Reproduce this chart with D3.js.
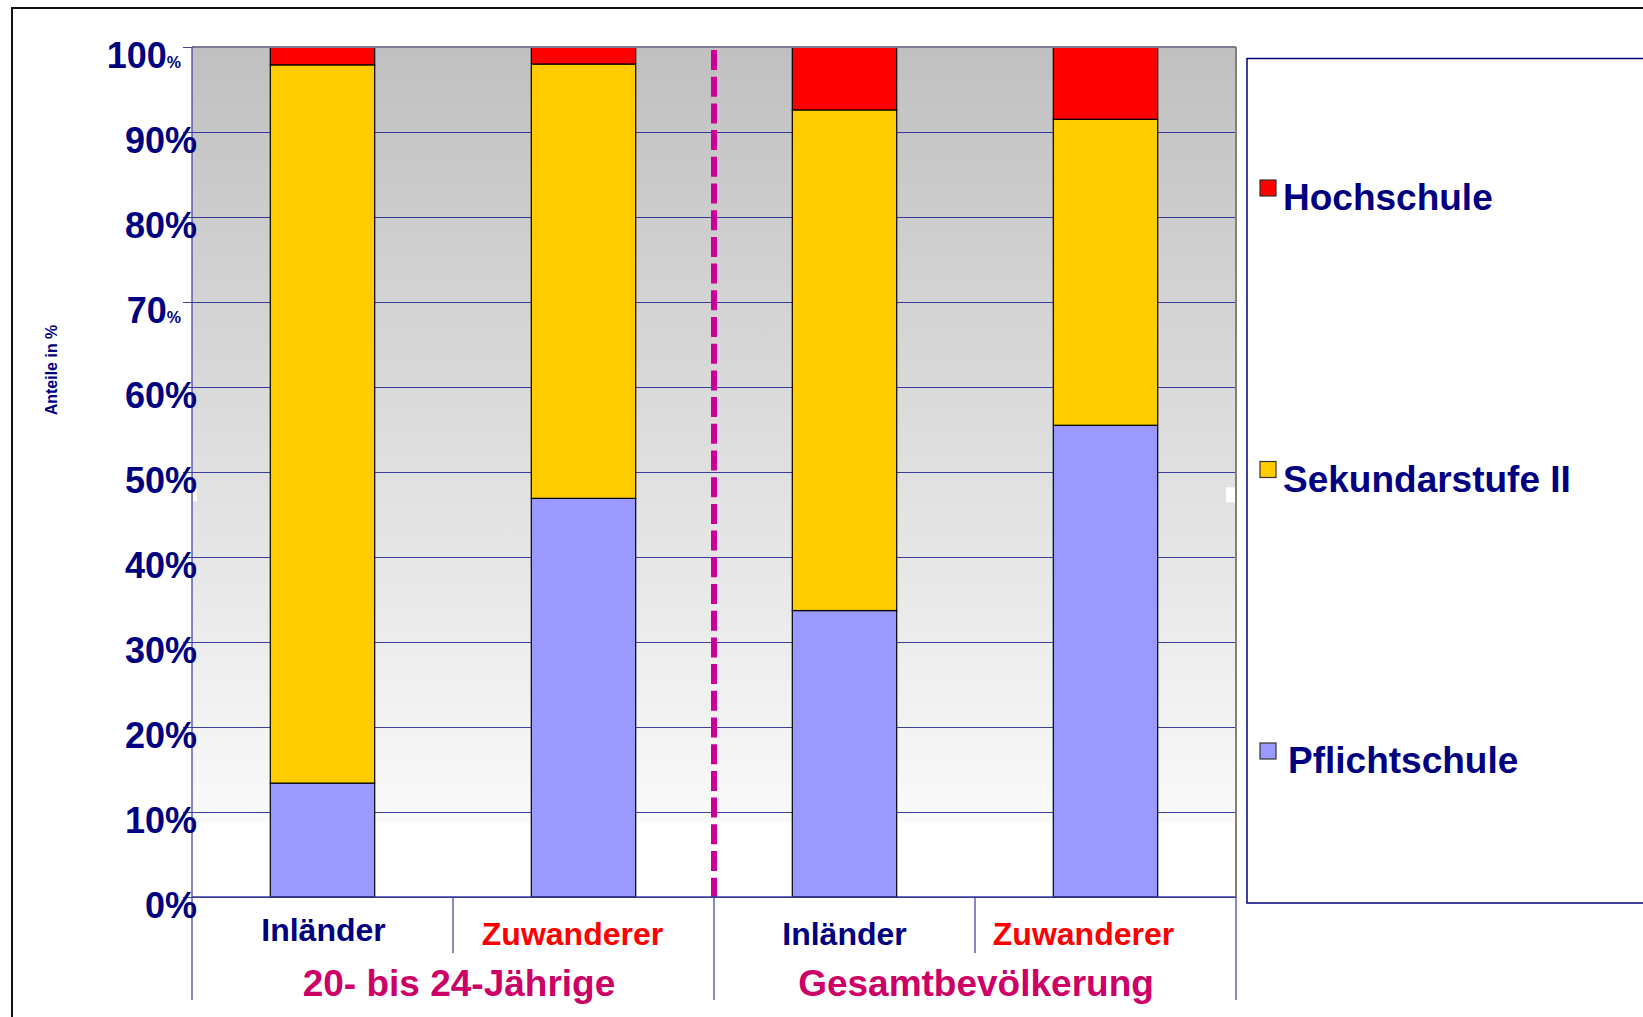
<!DOCTYPE html>
<meta charset="utf-8">
<style>
body { margin: 0; background: #fff; }
text { font-family: "Liberation Sans", Arial, sans-serif; font-weight: bold; }
.navy { fill: #000080; }
</style>
<body>
<script src="https://d3js.org/d3.v7.min.js"></script>
<script>

// data (percent of each bar)
var categories = ["Inländer", "Zuwanderer", "Inländer", "Zuwanderer"];
var groups = ["20- bis 24-Jährige", "Gesamtbevölkerung"];
var pflichtschule = [13.4, 46.9, 33.7, 55.5];
var sekundarstufe = [84.5, 51.1, 58.9, 36.0];
var hochschule = [2.1, 2.0, 7.4, 8.5];
var seriesNames = ["Pflichtschule", "Sekundarstufe II", "Hochschule"];
var tickValues = [0, 10, 20, 30, 40, 50, 60, 70, 80, 90, 100];
var tickLabels = ["0%", "10%", "20%", "30%", "40%", "50%", "60%", "70%", "80%", "90%", "100%"];
var smallPercentTicks = [70, 100];

var colors = {"Pflichtschule": "#9999ff", "Sekundarstufe II": "#ffcc00", "Hochschule": "#ff0000"};

var W = 1643, H = 1017;
var plot = {left: 192, right: 1236, top: 47, bottom: 897};

var svg = d3.select("body").append("svg")
    .attr("width", W)
    .attr("height", H);

// outer frame
svg.append("rect")
    .attr("x", 12).attr("y", 8)
    .attr("width", W + 20).attr("height", H + 20)
    .attr("fill", "none").attr("stroke", "#111").attr("stroke-width", 2);

var rows = categories.map(function(c, i) {
  return {key: i, cat: c, "Pflichtschule": pflichtschule[i],
          "Sekundarstufe II": sekundarstufe[i], "Hochschule": hochschule[i]};
});

var x = d3.scaleBand()
    .domain(rows.map(function(d) { return d.key; }))
    .range([plot.left, plot.right])
    .paddingInner(0.6)
    .paddingOuter(0.3);
var step = x.step();

var y = d3.scaleLinear()
    .domain([0, 100])
    .range([plot.bottom, plot.top]);

// plot background: grey fading to white
var defs = svg.append("defs");
var grad = defs.append("linearGradient")
    .attr("id", "bg").attr("x1", 0).attr("y1", 0).attr("x2", 0).attr("y2", 1);
grad.append("stop").attr("offset", 0).attr("stop-color", "#c0c0c0");
grad.append("stop").attr("offset", 0.912).attr("stop-color", "#fafafa");
grad.append("stop").attr("offset", 0.913).attr("stop-color", "#ffffff");
grad.append("stop").attr("offset", 1).attr("stop-color", "#ffffff");

svg.append("rect")
    .attr("x", plot.left).attr("y", plot.top)
    .attr("width", plot.right - plot.left).attr("height", plot.bottom - plot.top)
    .attr("fill", "url(#bg)");

// little white glitches at the 50% level
svg.append("rect").attr("x", 193).attr("y", y(48.1)).attr("width", 4).attr("height", 13).attr("fill", "#fff");
svg.append("rect").attr("x", 1226).attr("y", y(48.2)).attr("width", 10).attr("height", 15).attr("fill", "#fff");

// gridlines
var yAxis = svg.append("g")
    .attr("transform", "translate(" + plot.left + ",0)")
    .call(d3.axisLeft(y).tickValues(tickValues).tickSize(-(plot.right - plot.left)).tickFormat(""));
yAxis.select(".domain").remove();
yAxis.selectAll(".tick line")
    .attr("x1", -9)
    .attr("stroke", "#1f1f8f")
    .attr("stroke-opacity", 0.85);

// stacked bars
var stack = d3.stack().keys(seriesNames);
var layers = stack(rows);

svg.append("g").selectAll("g")
    .data(layers)
  .enter().append("g")
    .attr("fill", function(d) { return colors[d.key]; })
  .selectAll("rect")
    .data(function(d) { return d; })
  .enter().append("rect")
    .attr("x", function(d) { return x(d.data.key); })
    .attr("width", x.bandwidth())
    .attr("y", function(d) { return y(d[1]); })
    .attr("height", function(d) { return y(d[0]) - y(d[1]); })
    .attr("stroke", "#000")
    .attr("stroke-width", 1.2);

// plot frame: grey top and right, blue left
svg.append("line")
    .attr("x1", plot.left).attr("x2", plot.right)
    .attr("y1", plot.top).attr("y2", plot.top)
    .attr("stroke", "#7c7c90").attr("stroke-width", 2);
svg.append("line")
    .attr("x1", plot.right).attr("x2", plot.right)
    .attr("y1", plot.top).attr("y2", plot.bottom)
    .attr("stroke", "#808080").attr("stroke-width", 2);
svg.append("line")
    .attr("x1", plot.left).attr("x2", plot.left)
    .attr("y1", plot.top).attr("y2", 1000)
    .attr("stroke", "#3a3aa0").attr("stroke-width", 1.2);

// group divider
svg.append("line")
    .attr("x1", plot.left + 2 * step).attr("x2", plot.left + 2 * step)
    .attr("y1", plot.top + 3).attr("y2", plot.bottom)
    .attr("stroke", "#cc0099").attr("stroke-width", 6)
    .attr("stroke-dasharray", "20,6.7");

// category axis
svg.append("line")
    .attr("x1", plot.left).attr("x2", plot.right)
    .attr("y1", plot.bottom).attr("y2", plot.bottom)
    .attr("stroke", "#3a3aa0").attr("stroke-width", 1.5);
d3.range(1, 5).forEach(function(i) {
  var xx = plot.left + i * step;
  svg.append("line")
      .attr("x1", xx).attr("x2", xx)
      .attr("y1", plot.bottom).attr("y2", i % 2 === 0 ? 1000 : 953)
      .attr("stroke", "#3a3aa0").attr("stroke-width", 1.2);
});

// y tick labels
tickValues.forEach(function(v, i) {
  var small = smallPercentTicks.indexOf(v) >= 0;
  var num = tickLabels[i].replace("%", "");
  var t = svg.append("text")
      .attr("class", "navy")
      .attr("x", small ? 181 : 197)
      .attr("y", y(v) + 21)
      .attr("text-anchor", "end")
      .style("font-size", "36px");
  t.append("tspan").text(num);
  t.append("tspan").text("%").style("font-size", small ? "16px" : "36px");
});

// y axis title
svg.append("text")
    .attr("class", "navy")
    .attr("transform", "translate(57,370) rotate(-90)")
    .attr("text-anchor", "middle")
    .style("font-size", "16px")
    .text("Anteile in %");

// category labels
var catOffset = [1, -11, 0, -22];
var catBase = [941, 945, 945, 945];
svg.selectAll(".cat")
    .data(rows)
  .enter().append("text")
    .attr("class", "cat")
    .attr("x", function(d, i) { return x(d.key) + x.bandwidth() / 2 + catOffset[i]; })
    .attr("y", function(d, i) { return catBase[i]; })
    .attr("text-anchor", "middle")
    .style("font-size", "32px")
    .style("fill", function(d) { return d.cat === "Zuwanderer" ? "#ff0000" : "#000080"; })
    .text(function(d) { return d.cat; });

// group labels
svg.selectAll(".grp")
    .data(groups)
  .enter().append("text")
    .attr("class", "grp")
    .attr("x", function(d, i) { return plot.left + (2 * i + 1) * step + (i === 0 ? 6 : 1); })
    .attr("y", 996)
    .attr("text-anchor", "middle")
    .style("font-size", "37px")
    .style("fill", "#cc0066")
    .text(function(d) { return d; });

// legend
svg.append("rect")
    .attr("x", 1247).attr("y", 58.5)
    .attr("width", 600).attr("height", 844.5)
    .attr("fill", "#fff")
    .attr("stroke", "#000080").attr("stroke-width", 1.5);

var legendItems = seriesNames.slice().reverse();
var legend = svg.selectAll(".leg")
    .data(legendItems)
  .enter().append("g")
    .attr("class", "leg")
    .attr("transform", function(d, i) { return "translate(1260," + (180 + i * 281.5) + ")"; });
legend.append("rect")
    .attr("width", 16).attr("height", 16)
    .attr("fill", function(d) { return colors[d]; })
    .attr("stroke", "#333").attr("stroke-width", 1.2);
legend.append("text")
    .attr("class", "navy")
    .attr("x", function(d) { return d === "Pflichtschule" ? 28 : 23; })
    .attr("y", 30)
    .style("font-size", "37px")
    .text(function(d) { return d; });

</script>
</body>
